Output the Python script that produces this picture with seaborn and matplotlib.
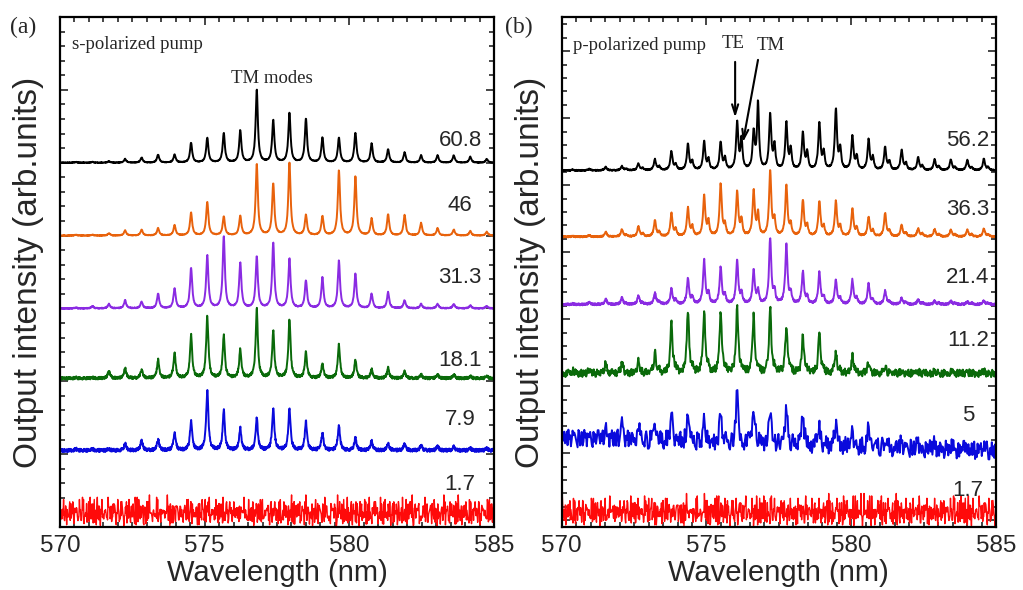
import numpy as np
import pandas as pd
import matplotlib
matplotlib.use("Agg")
import matplotlib.pyplot as plt
import seaborn as sns
from matplotlib.ticker import MultipleLocator

sns.set_style("ticks")
plt.rcParams['font.family'] = ['Liberation Sans', 'DejaVu Sans']

# ---------------- data: panel (a), s-polarized pump ----------------
modes_a = [570.55, 571.12, 571.69, 572.25, 572.82, 573.39, 573.96, 574.53, 575.09,
           575.66, 576.23, 576.80, 577.37, 577.93, 578.50, 579.07, 579.64, 580.21,
           580.77, 581.34, 581.91, 582.48, 583.05, 583.61, 584.18, 584.75]
black_a = [0.01, 0.01, 0.02, 0.05, 0.07, 0.11, 0.11, 0.27, 0.34, 0.40, 0.44, 1.00, 0.58,
           0.68, 0.60, 0.34, 0.34, 0.41, 0.26, 0.18, 0.14, 0.10, 0.10, 0.10, 0.08, 0.05]
orange_a = [0.01, 0.01, 0.03, 0.07, 0.08, 0.10, 0.14, 0.31, 0.46, 0.26, 0.27, 0.98, 0.71,
            1.00, 0.28, 0.26, 0.89, 0.81, 0.23, 0.29, 0.28, 0.17, 0.10, 0.08, 0.06, 0.05]
purple_a = [0.01, 0.03, 0.06, 0.11, 0.09, 0.20, 0.27, 0.55, 0.72, 0.98, 0.62, 0.71, 0.90,
            0.68, 0.38, 0.42, 0.65, 0.47, 0.20, 0.22, 0.11, 0.06, 0.06, 0.06, 0.04, 0.03]
green_a = [0.01, 0.01, 0.10, 0.14, 0.12, 0.25, 0.34, 0.59, 0.85, 0.58, 0.39, 0.95, 0.64,
           0.80, 0.35, 0.20, 0.46, 0.25, 0.12, 0.14, 0.09, 0.05, 0.05, 0.05, 0.03, 0.03]
blue_a = [0.02, 0.02, 0.02, 0.09, 0.14, 0.15, 0.25, 0.40, 0.82, 0.54, 0.30, 0.44, 0.57,
          0.57, 0.39, 0.24, 0.34, 0.17, 0.13, 0.10, 0.09, 0.07, 0.06, 0.05, 0.03, 0.03]
labels_a = ["60.8", "46", "31.3", "18.1", "7.9", "1.7"]
base_a = [5.0, 4.0, 3.0, 2.04, 1.05, 0.02]
noise_amp_a = [0.004, 0.004, 0.006, 0.018, 0.022, 0.21]
label_y_a = [5.31, 4.41, 3.43, 2.29, 1.47, 0.59]

# ---------------- data: panel (b), p-polarized pump ----------------
modes_b = [570.38, 570.95, 571.52, 572.08, 572.65, 573.22, 573.79, 574.36, 574.92,
           575.49, 576.06, 576.63, 577.20, 577.76, 578.33, 578.90, 579.47, 580.04,
           580.60, 581.17, 581.74, 582.31, 582.88, 583.44, 584.01, 584.58]
tm_shift_b = 0.15
black_b_te = [0.01, 0.02, 0.05, 0.06, 0.10, 0.16, 0.28, 0.39, 0.42, 0.41, 0.70, 0.55, 0.82,
              0.70, 0.55, 0.70, 0.90, 0.50, 0.45, 0.34, 0.30, 0.19, 0.16, 0.16, 0.15, 0.17]
black_b_tm = [0.0, 0.0, 0.0, 0.02, 0.03, 0.05, 0.08, 0.12, 0.15, 0.17, 0.45, 0.99, 0.35,
              0.30, 0.25, 0.25, 0.30, 0.20, 0.18, 0.12, 0.10, 0.06, 0.05, 0.04, 0.04, 0.04]
orange_b_te = [0.01, 0.02, 0.07, 0.11, 0.15, 0.24, 0.34, 0.42, 0.60, 0.78, 0.67, 0.67, 0.98,
               0.76, 0.54, 0.52, 0.52, 0.41, 0.29, 0.35, 0.17, 0.12, 0.11, 0.10, 0.10, 0.12]
orange_b_tm = [0.0, 0.0, 0.0, 0.02, 0.04, 0.06, 0.10, 0.14, 0.21, 0.16, 0.23, 0.33, 0.23,
               0.16, 0.15, 0.14, 0.14, 0.12, 0.08, 0.08, 0.05, 0.04, 0.03, 0.03, 0.03, 0.03]
purple_b_te = [0.01, 0.03, 0.08, 0.10, 0.13, 0.17, 0.23, 0.38, 0.65, 0.55, 0.65, 0.50, 0.98,
               0.90, 0.48, 0.47, 0.36, 0.36, 0.30, 0.20, 0.09, 0.07, 0.05, 0.05, 0.04, 0.05]
purple_b_tm = [0.0, 0.0, 0.0, 0.01, 0.02, 0.04, 0.06, 0.10, 0.15, 0.12, 0.15, 0.20, 0.18,
               0.15, 0.10, 0.10, 0.08, 0.08, 0.06, 0.04, 0.03, 0.02, 0.02, 0.02, 0.02, 0.02]
green_b_te = [0.04, 0.05, 0.15, 0.17, 0.20, 0.30, 0.76, 0.94, 0.94, 0.93, 0.99, 0.85, 0.97,
              0.72, 0.56, 0.62, 0.31, 0.25, 0.16, 0.10, 0.04, 0.03, 0.03, 0.03, 0.03, 0.03]
green_b_tm = [0.0, 0.0, 0.0, 0.0, 0.0, 0.03, 0.05, 0.06, 0.06, 0.06, 0.06, 0.06, 0.06,
              0.05, 0.04, 0.04, 0.03, 0.02, 0.0, 0.0, 0.0, 0.0, 0.0, 0.0, 0.0, 0.0]
blue_b_te = [0.05, 0.10, 0.22, 0.27, 0.22, 0.26, 0.47, 0.40, 0.30, 0.45, 0.81, 0.61, 0.55,
             0.57, 0.52, 0.30, 0.40, 0.25, 0.30, 0.12, 0.10, 0.10, 0.08, 0.08, 0.08, 0.08]
blue_b_tm = [0.0] * 26
labels_b = ["56.2", "36.3", "21.4", "11.2", "5", "1.7"]
base_b_left = [5.22, 4.23, 3.22, 2.19, 1.22, -0.08]
base_b_right = [5.22, 4.23, 3.22, 2.19, 1.03, -0.08]
noise_amp_b = [0.008, 0.01, 0.015, 0.055, 0.13, 0.24]
label_y_b = [5.67, 4.64, 3.63, 2.69, 1.57, 0.45]

colors = ["#000000", "#E8620C", "#8A2BE2", "#0A6A0A", "#0A0ADC", "#FF0A0A"]

# hand-typed noise digits (read as an irregular fluctuation level 0..9)
noise_digits = (
    "38159270461873650294716208394550281736499374061528"
    "26904183758142736950063927184575139620844286059317"
    "60573849213940162758972850314614658293078301546972"
    "51738902640826451739235967041869012735847548219036"
    "19826475036734058192401839526732567849100697132485"
    "92460153782581946037576420981381395706426410837259"
)
nd = np.array([int(c) for c in noise_digits], dtype=float)
nd = (nd - 4.5) / 4.5
noise_long = np.concatenate([nd, nd[::-1], np.roll(nd, 97), np.roll(nd, 193)[::-1], np.roll(nd, 41)])
# one-sided version for the sub-threshold (red) traces: two shifted copies summed
u01 = ((noise_long + 1) / 2) ** 1.4
spiky = u01 + np.roll(u01, 377)[::-1]

x = np.linspace(570, 585, 1500)
grid_sizes_b = [1500, 1500, 1500, 800, 520]
x_red = np.linspace(570, 585, 850)


def spectrum(xx, centers, heights, gamma):
    c = np.asarray(centers)[:, None]
    h = np.asarray(heights)[:, None]
    return (h * gamma ** 2 / ((xx[None, :] - c) ** 2 + gamma ** 2)).sum(axis=0)


fig = plt.figure(figsize=(10.23, 5.90), dpi=100)
ax_a = fig.add_axes([60 / 1023, 63 / 590, 434 / 1023, 510 / 590])
ax_b = fig.add_axes([561.7 / 1023, 63 / 590, 434.3 / 1023, 510 / 590])

serif = ['Liberation Serif', 'DejaVu Serif']

# ---- panel a
traces_a = [black_a, orange_a, purple_a, green_a, blue_a]
for i, h in enumerate(traces_a):
    y = base_a[i] + spectrum(x, modes_a, h, 0.045) + noise_amp_a[i] * np.roll(noise_long, 130 * i + 7)
    sns.lineplot(x=x, y=y, ax=ax_a, color=colors[i], lw=1.4, estimator=None, sort=False)
red_a = base_a[5] + noise_amp_a[5] * np.roll(spiky, 55)[:x_red.size]
sns.lineplot(x=x_red, y=red_a, ax=ax_a, color=colors[5], lw=1.0, estimator=None, sort=False)
for i, lab in enumerate(labels_a):
    ax_a.text(583.83, label_y_a[i], lab, ha='center', va='center', fontsize=16)
ax_a.set_ylim(0, 7.0)
ax_a.text(570.41, 6.62, "s-polarized pump", family=serif, fontsize=13.5, ha='left', va='center')
ax_a.text(577.33, 6.16, "TM modes", family=serif, fontsize=13.5, ha='center', va='center')

# ---- panel b
traces_b = [(black_b_te, black_b_tm), (orange_b_te, orange_b_tm), (purple_b_te, purple_b_tm),
            (green_b_te, green_b_tm), (blue_b_te, blue_b_tm)]
for i, (te, tm) in enumerate(traces_b):
    xb = np.linspace(570, 585, grid_sizes_b[i])
    base = np.linspace(base_b_left[i], base_b_right[i], xb.size)
    y = (base + spectrum(xb, modes_b, te, 0.045)
         + spectrum(xb, np.asarray(modes_b) + tm_shift_b, tm, 0.04)
         + noise_amp_b[i] * np.roll(noise_long, 211 * i + 400)[:xb.size])
    sns.lineplot(x=xb, y=y, ax=ax_b, color=colors[i], lw=1.4, estimator=None, sort=False)
red_b = base_b_left[5] + noise_amp_b[5] * np.roll(spiky, 777)[:x_red.size]
sns.lineplot(x=x_red, y=red_b, ax=ax_b, color=colors[5], lw=1.0, estimator=None, sort=False)
for i, lab in enumerate(labels_b):
    ax_b.text(584.03, label_y_b[i], lab, ha='center', va='center', fontsize=16)
ax_b.set_ylim(-0.1, 7.51)
ax_b.text(570.39, 7.09, "p-polarized pump", family=serif, fontsize=13.5, ha='left', va='center')
ax_b.text(575.93, 7.12, "TE", family=serif, fontsize=13.5, ha='center', va='center')
ax_b.text(577.23, 7.09, "TM", family=serif, fontsize=13.5, ha='center', va='center')
arw = dict(arrowstyle="->,head_length=0.7,head_width=0.22", lw=1.5, color='black',
           shrinkA=0, shrinkB=0)
ax_b.annotate("", xy=(575.99, 6.01), xytext=(575.99, 6.84), arrowprops=arw)
ax_b.annotate("", xy=(576.26, 5.64), xytext=(576.78, 6.87), arrowprops=arw)

for ax in (ax_a, ax_b):
    ax.set_xlim(570, 585)
    ax.xaxis.set_major_locator(MultipleLocator(5))
    ax.xaxis.set_minor_locator(MultipleLocator(0.5))
    ax.yaxis.set_major_locator(MultipleLocator(1))
    ax.yaxis.set_minor_locator(MultipleLocator(0.2))
    ax.tick_params(which='both', direction='in', top=True, right=True, width=1.2)
    ax.tick_params(which='major', length=6)
    ax.tick_params(which='minor', length=3.5)
    ax.tick_params(axis='x', labelsize=17.5, pad=6)
    ax.set_yticklabels([])
    for s in ax.spines.values():
        s.set_linewidth(1.6)
        s.set_color('black')
    ax.set_xlabel("Wavelength (nm)", fontsize=21, labelpad=1)
    ax.set_ylabel("Output intensity (arb.units)", fontsize=24, labelpad=8)

fig.text(10 / 1023, 1 - 27 / 590, "(a)", family=serif, fontsize=17, ha='left', va='center')
fig.text(505 / 1023, 1 - 27 / 590, "(b)", family=serif, fontsize=17, ha='left', va='center')

fig.savefig("out.png", dpi=100)
